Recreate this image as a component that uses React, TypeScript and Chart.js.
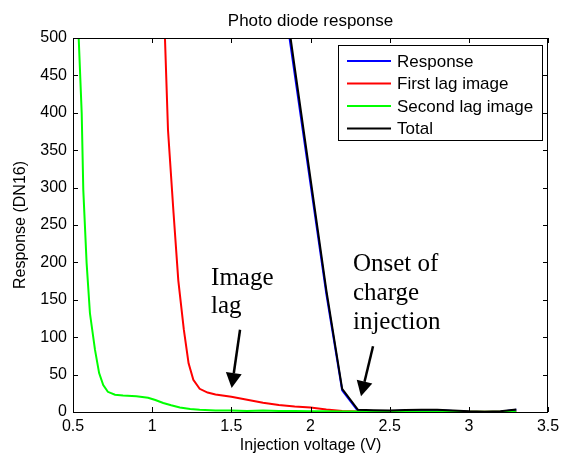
import React, { useEffect, useRef } from "react";
import { Chart, registerables } from "chart.js";

Chart.register(...registerables);

// Photo diode response vs injection voltage
const responseV = [1.8, 1.9, 2.0, 2.1, 2.2, 2.3, 2.4, 2.5, 2.6, 2.7, 2.8, 2.9, 3.0, 3.1, 3.2, 3.3];
const responseDN = [600, 452, 305, 158, 29, 1.5, 1.5, 1.0, 2, 2.5, 2.5, 1.5, 0.5, 0, 0.5, 3];

const firstLagV = [1.08, 1.1, 1.135, 1.165, 1.2, 1.23, 1.26, 1.3, 1.35, 1.4, 1.5, 1.6, 1.7, 1.8, 1.9, 2.0, 2.1, 2.2, 2.3, 2.4, 2.5, 2.6, 2.7, 2.8, 2.9, 3.0, 3.1, 3.2, 3.3];
const firstLagDN = [505, 377, 266, 176, 110, 65, 43, 31, 26, 23.5, 20.5, 16.5, 12.5, 9.5, 7.5, 6, 3.5, 1.5, 0.8, 0.6, 0.5, 0.5, 0.4, 0.4, 0.3, 0.3, 0.3, 0.2, 0.2];

const secondLagV = [0.535, 0.555, 0.565, 0.586, 0.607, 0.639, 0.665, 0.691, 0.72, 0.765, 0.816, 0.9, 0.974, 1.02, 1.07, 1.12, 1.175, 1.24, 1.3, 1.4, 1.5, 1.6, 1.7, 1.8, 1.9, 2.0, 2.1, 2.2, 2.3, 2.4, 2.5, 2.6, 2.7, 2.8, 2.9, 3.0, 3.1, 3.2, 3.3];
const secondLagDN = [505, 399, 297, 199, 132, 83, 52, 36, 27, 23, 22, 21, 19, 16, 12, 9, 6, 4, 3, 2, 2, 1.5, 2, 1.5, 1.5, 1, 1, 0.8, 0.6, 0.5, 0.4, 0.4, 0.3, 0.3, 0.3, 0.2, 0.2, 0.2, 0.2];

const totalV = [1.8, 1.9, 2.0, 2.1, 2.2, 2.3, 2.4, 2.5, 2.6, 2.7, 2.8, 2.9, 3.0, 3.1, 3.2, 3.3];
const totalDN = [612, 461, 312, 163, 31, 3, 2.5, 2, 2.8, 3, 3, 2, 1, 0.5, 1, 3.5];

const seriesLabels = ["Response", "First lag image", "Second lag image", "Total"];
const seriesColors = ["#0000ff", "#ff0000", "#00ff00", "#000000"];

const xTicks = [0.5, 1, 1.5, 2, 2.5, 3, 3.5];
const yTicks = [0, 50, 100, 150, 200, 250, 300, 350, 400, 450, 500];

const titleText = "Photo diode response";
const xTitle = "Injection voltage (V)";
const yTitle = "Response (DN16)";

// Callout texts (data coordinates of each line's left baseline)
const lagLines = ["Image", "lag"];
const lagTextAt = { x: 1.372, y: [170, 132] };
const lagArrow = { from: [1.555, 110], to: [1.502, 32] };

const onsetLines = ["Onset of", "charge", "injection"];
const onsetTextAt = { x: 2.268, y: [188, 149.5, 111] };
const onsetArrow = { from: [2.395, 88], to: [2.319, 21] };

const SANS = "'Liberation Sans', Arial, sans-serif";
const SERIF = "'Liberation Serif', 'Times New Roman', serif";

const pts = (xs: number[], ys: number[]) => xs.map((x, i) => ({ x, y: ys[i] }));

const decorPlugin = {
  id: "decor",
  afterDatasetsDraw(chart: any) {
    const { ctx, chartArea: a, scales } = chart;
    const xs = scales.x;
    const ys = scales.y;
    ctx.save();

    // frame
    ctx.strokeStyle = "#000";
    ctx.lineWidth = 1;
    ctx.strokeRect(a.left + 0.5, a.top + 0.5, a.right - a.left - 1, a.bottom - a.top);

    // inward tick marks on all sides
    const tl = 5;
    ctx.beginPath();
    xTicks.forEach((v) => {
      const px = Math.round(xs.getPixelForValue(v)) + 0.5;
      ctx.moveTo(px, a.bottom);
      ctx.lineTo(px, a.bottom - tl);
      ctx.moveTo(px, a.top);
      ctx.lineTo(px, a.top + tl);
    });
    yTicks.forEach((v) => {
      const py = Math.round(ys.getPixelForValue(v)) + 0.5;
      ctx.moveTo(a.left, py);
      ctx.lineTo(a.left + tl, py);
      ctx.moveTo(a.right, py);
      ctx.lineTo(a.right - tl, py);
    });
    ctx.stroke();

    // legend
    const lx = 338, ly = 45, lw = 204, lh = 95;
    ctx.fillStyle = "#fff";
    ctx.fillRect(lx, ly, lw, lh);
    ctx.strokeStyle = "#000";
    ctx.lineWidth = 1;
    ctx.strokeRect(lx + 0.5, ly + 0.5, lw, lh);
    ctx.font = `17px ${SANS}`;
    ctx.textBaseline = "middle";
    ctx.textAlign = "left";
    seriesLabels.forEach((lab, i) => {
      const y = ly + 16 + i * 22.5;
      ctx.strokeStyle = seriesColors[i];
      ctx.lineWidth = 2;
      ctx.beginPath();
      ctx.moveTo(347, y);
      ctx.lineTo(391, y);
      ctx.stroke();
      ctx.fillStyle = "#000";
      ctx.fillText(lab, 397, y + 1);
    });

    // callouts
    ctx.fillStyle = "#000";
    ctx.font = `25px ${SERIF}`;
    ctx.textBaseline = "alphabetic";
    lagLines.forEach((t, i) => {
      ctx.fillText(t, xs.getPixelForValue(lagTextAt.x), ys.getPixelForValue(lagTextAt.y[i]));
    });
    onsetLines.forEach((t, i) => {
      ctx.fillText(t, xs.getPixelForValue(onsetTextAt.x), ys.getPixelForValue(onsetTextAt.y[i]));
    });

    const arrow = (from: number[], to: number[]) => {
      const x0 = xs.getPixelForValue(from[0]);
      const y0 = ys.getPixelForValue(from[1]);
      const x1 = xs.getPixelForValue(to[0]);
      const y1 = ys.getPixelForValue(to[1]);
      const ang = Math.atan2(y1 - y0, x1 - x0);
      const hl = 15, hw = 8;
      const bx = x1 - hl * Math.cos(ang);
      const by = y1 - hl * Math.sin(ang);
      ctx.strokeStyle = "#000";
      ctx.lineWidth = 2.5;
      ctx.beginPath();
      ctx.moveTo(x0, y0);
      ctx.lineTo(bx, by);
      ctx.stroke();
      ctx.beginPath();
      ctx.moveTo(x1, y1);
      ctx.lineTo(bx + hw * Math.sin(ang), by - hw * Math.cos(ang));
      ctx.lineTo(bx - hw * Math.sin(ang), by + hw * Math.cos(ang));
      ctx.closePath();
      ctx.fill();
    };
    arrow(lagArrow.from, lagArrow.to);
    arrow(onsetArrow.from, onsetArrow.to);

    // titles
    ctx.fillStyle = "#000";
    ctx.textAlign = "center";
    ctx.textBaseline = "middle";
    const cx = (a.left + a.right) / 2;
    ctx.font = `17px ${SANS}`;
    ctx.fillText(titleText, cx, 21);
    ctx.font = `16px ${SANS}`;
    ctx.fillText(xTitle, cx, 446);
    ctx.translate(21, (a.top + a.bottom) / 2);
    ctx.rotate(-Math.PI / 2);
    ctx.fillText(yTitle, 0, 0);
    ctx.restore();
  },
};

export default function App() {
  const ref = useRef<HTMLCanvasElement | null>(null);

  useEffect(() => {
    document.body.style.margin = "0";
    const canvas = ref.current;
    if (!canvas) return;
    const mk = (i: number, data: any[], order: number) => ({
      label: seriesLabels[i],
      data,
      borderColor: seriesColors[i],
      backgroundColor: seriesColors[i],
      borderWidth: 2,
      pointRadius: 0,
      tension: 0,
      fill: false,
      order,
    });
    const chart = new Chart(canvas, {
      type: "line",
      data: {
        datasets: [
          mk(0, pts(responseV, responseDN), 4),
          mk(1, pts(firstLagV, firstLagDN), 3),
          mk(2, pts(secondLagV, secondLagDN), 2),
          mk(3, pts(totalV, totalDN), 1),
        ],
      },
      options: {
        responsive: false,
        animation: false,
        layout: { padding: { top: 38, right: 20, left: 0, bottom: 0 } },
        plugins: { legend: { display: false }, title: { display: false }, tooltip: { enabled: false } },
        scales: {
          x: {
            type: "linear",
            min: 0.5,
            max: 3.5,
            afterBuildTicks: (s: any) => {
              s.ticks = xTicks.map((v) => ({ value: v }));
            },
            afterFit: (s: any) => {
              s.height = 48;
            },
            grid: { display: false, drawTicks: false },
            border: { display: false },
            ticks: {
              color: "#000",
              padding: 5,
              maxRotation: 0,
              autoSkip: false,
              font: { family: SANS, size: 16 },
              callback: (v: any) => String(v),
            },
          },
          y: {
            type: "linear",
            min: 0,
            max: 500,
            afterBuildTicks: (s: any) => {
              s.ticks = yTicks.map((v) => ({ value: v }));
            },
            afterFit: (s: any) => {
              s.width = 73;
            },
            grid: { display: false, drawTicks: false },
            border: { display: false },
            ticks: {
              color: "#000",
              padding: 6,
              autoSkip: false,
              font: { family: SANS, size: 16 },
              callback: (v: any) => String(v),
            },
          },
        },
      },
      plugins: [decorPlugin],
    });
    return () => chart.destroy();
  }, []);

  return <canvas ref={ref} width={568} height={460} style={{ display: "block" }} />;
}
